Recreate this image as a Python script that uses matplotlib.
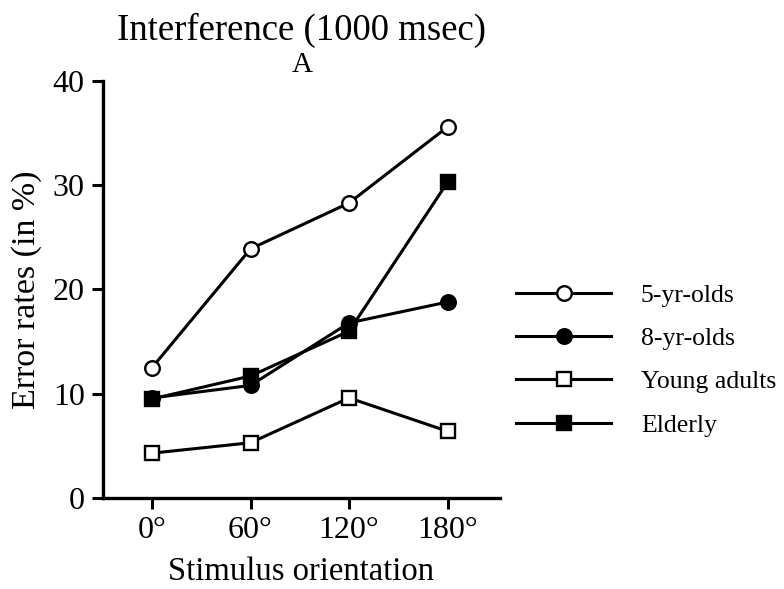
import numpy as np
import matplotlib
matplotlib.use("Agg")
import matplotlib.pyplot as plt

plt.rcParams['font.family'] = ['Liberation Serif', 'DejaVu Serif']

# Error rates per group at each stimulus orientation
orientations = [0, 60, 120, 180]
tick_labels = ["0°", "60°", "120°", "180°"]
five_yr_olds = [12.5, 23.9, 28.3, 35.6]
eight_yr_olds = [9.6, 10.8, 16.8, 18.8]
young_adults = [4.3, 5.3, 9.6, 6.4]
elderly = [9.5, 11.7, 16.0, 30.3]

fig = plt.figure(figsize=(7.84, 5.89), dpi=100)
ax = fig.add_axes([0.131, 0.1545, 0.507, 0.708])

lw = 2.2
ms = 10.5
mew = 1.7
ax.plot(orientations, five_yr_olds, color="black", lw=lw, marker="o", ms=ms,
        mfc="white", mec="black", mew=mew, label="5-yr-olds", zorder=3)
ax.plot(orientations, eight_yr_olds, color="black", lw=lw, marker="o", ms=ms,
        mfc="black", mec="black", mew=mew, label="8-yr-olds", zorder=3)
ax.plot(orientations, young_adults, color="black", lw=lw, marker="s", ms=ms,
        mfc="white", mec="black", mew=mew, label="Young adults", zorder=3)
ax.plot(orientations, elderly, color="black", lw=lw, marker="s", ms=ms,
        mfc="black", mec="black", mew=mew, label="Elderly", zorder=3)

ax.set_xlim(-30, 212)
ax.set_ylim(0, 40)
ax.set_xticks(orientations)
ax.set_xticklabels(tick_labels)
ax.set_yticks([0, 10, 20, 30, 40])

for side in ["top", "right"]:
    ax.spines[side].set_visible(False)
for side in ["left", "bottom"]:
    ax.spines[side].set_linewidth(2.4)
ax.tick_params(axis="both", direction="out", length=8, width=2.2,
               labelsize=23, pad=5)

ax.set_xlabel("Stimulus orientation", fontsize=23.5, labelpad=8)
ax.set_ylabel("Error rates (in %)", fontsize=24.5, labelpad=8)

fig.text(0.385, 0.948, "Interference (1000 msec)", fontsize=26.5,
         ha="center", va="center")
fig.text(0.385, 0.889, "A", fontsize=21, ha="center", va="center")

ax.legend(loc="center left", bbox_to_anchor=(0.642, 0.388),
          bbox_transform=fig.transFigure, frameon=False, fontsize=18.5,
          handlelength=3.7, numpoints=1, labelspacing=0.78,
          handletextpad=1.15, borderpad=0)

fig.savefig("out.png", dpi=100)
